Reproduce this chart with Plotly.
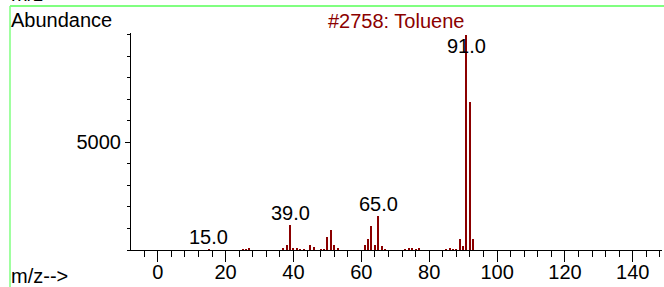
import plotly.graph_objects as go

# m/z values and abundances
mz = [15, 25, 26, 27, 37, 38, 39, 40, 41, 42, 43, 45, 46, 48, 49, 50, 51, 52, 53,
      61, 62, 63, 64, 65, 66, 67, 73, 74, 75, 76, 77, 85, 86, 87, 88, 89, 90, 91, 92, 93]
abundance = [30, 25, 45, 115, 70, 230, 1160, 100, 80, 40, 40, 230, 140, 30, 45, 620, 930, 230, 90,
             215, 495, 1130, 230, 1595, 185, 45, 45, 110, 60, 45, 110, 45, 80, 40, 30, 510, 200, 9999, 6890, 510]
labeled_peaks = [15, 39, 65, 91]
x_tick_vals = [0, 20, 40, 60, 80, 100, 120, 140]
y_tick_vals = [5000]
title_text = "#2758: Toluene"

X_RANGE = [-7.87, 148.6]
Y_MAX = 10074
LABEL_CAP = 0.883 * Y_MAX

FONT = "Liberation Sans, Arial, sans-serif"
RED = "#8B0000"
GREEN = "#80FF80"

fig = go.Figure()
fig.add_trace(go.Bar(x=mz, y=abundance, width=0.32, marker=dict(color=RED, line=dict(width=0)),
                     showlegend=False, hoverinfo="x+y"))

for p in labeled_peaks:
    v = abundance[mz.index(p)]
    fig.add_annotation(x=p, y=min(v, LABEL_CAP), text=f"{p:.1f}", showarrow=False,
                       xanchor="center", yanchor="bottom", yshift=-1,
                       font=dict(family=FONT, size=20, color="black"))

def P(px_x=None, px_y=None):
    # convert page pixel to paper coords for plot area 131..662 x 33..250
    out = []
    if px_x is not None:
        out.append((px_x - 131) / 531)
    if px_y is not None:
        out.append((250 - px_y) / 217)
    return out

fig.add_annotation(xref="paper", yref="paper", x=P(px_x=396)[0], y=P(px_y=21)[0], text=title_text,
                   showarrow=False, xanchor="center", yanchor="middle",
                   font=dict(family=FONT, size=20, color=RED))
fig.add_annotation(xref="paper", yref="paper", x=P(px_x=9)[0], y=P(px_y=20)[0], text="Abundance",
                   showarrow=False, xanchor="left", yanchor="middle",
                   font=dict(family=FONT, size=20, color="black"))
fig.add_annotation(xref="paper", yref="paper", x=P(px_x=9)[0], y=P(px_y=276)[0], text="m/z-->",
                   showarrow=False, xanchor="left", yanchor="middle",
                   font=dict(family=FONT, size=20, color="black"))
fig.add_annotation(xref="paper", yref="paper", x=P(px_x=9)[0], y=P(px_y=-6)[0], text="m/z-->",
                   showarrow=False, xanchor="left", yanchor="middle",
                   font=dict(family=FONT, size=20, color="black"))

fig.add_shape(type="line", xref="paper", yref="paper",
              x0=P(px_x=10)[0], x1=P(px_x=664)[0], y0=P(px_y=6)[0], y1=P(px_y=6)[0],
              line=dict(color=GREEN, width=2))
fig.add_shape(type="line", xref="paper", yref="paper",
              x0=P(px_x=10)[0], x1=P(px_x=10)[0], y0=P(px_y=6)[0], y1=P(px_y=290)[0],
              line=dict(color=GREEN, width=1.5))

fig.update_layout(
    width=664, height=287,
    margin=dict(l=131, r=2, t=33, b=37),
    paper_bgcolor="white", plot_bgcolor="white",
    font=dict(family=FONT, size=20, color="black"),
    bargap=0,
    xaxis=dict(range=X_RANGE, showgrid=False, zeroline=False, showline=True, linecolor="black",
               linewidth=1, ticks="outside", ticklen=11, tickcolor="black", tickwidth=1,
               tickvals=x_tick_vals, ticktext=[str(v) for v in x_tick_vals],
               tickfont=dict(family=FONT, size=20, color="black"), automargin=False,
               ticklabelstandoff=-7,
               minor=dict(ticks="outside", ticklen=6, tickcolor="black", dtick=4, tick0=0, showgrid=False)),
    yaxis=dict(range=[0, Y_MAX], showgrid=False, zeroline=False, showline=True, linecolor="black",
               linewidth=1, ticks="outside", ticklen=5, tickcolor="black", tickwidth=1,
               tickvals=y_tick_vals, ticktext=[str(v) for v in y_tick_vals],
               tickfont=dict(family=FONT, size=20, color="black"), automargin=False,
               minor=dict(ticks="outside", ticklen=3, tickcolor="black", dtick=1000, tick0=0, showgrid=False)),
)

fig.write_html("out.html", config={"displayModeBar": False},
               post_script="document.body.style.margin='0';document.body.style.overflow='hidden';")
